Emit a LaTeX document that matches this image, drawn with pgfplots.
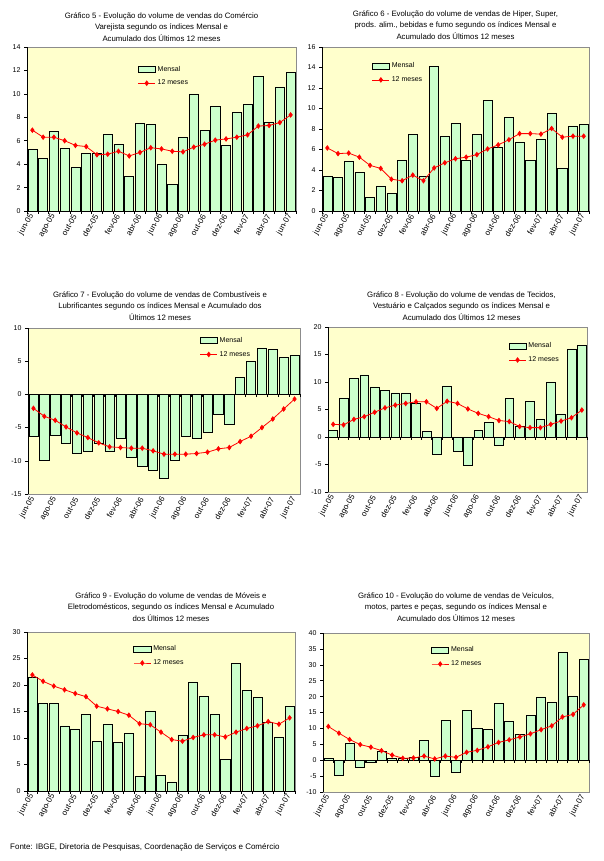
\documentclass[border=0pt]{standalone}
\usepackage{fontspec}
\setmainfont{Liberation Sans}
\usepackage{pgfplots}
\usepackage{pgfplotstable}
\pgfplotsset{compat=1.18}

\definecolor{plotbg}{HTML}{FFFFCC}
\definecolor{barfill}{HTML}{CCFFCC}

% x = mes (0 = jun-05 ... 24 = jun-07), m = Mensal, a = 12 meses
\pgfplotstableread{
x m a
0 5.25 6.9
1 4.5 6.3
2 6.8 6.3
3 5.35 6.0
4 3.7 5.6
5 4.9 5.5
6 4.9 4.8
7 6.55 4.85
8 5.7 5.1
9 2.95 4.7
10 7.5 5.0
11 7.4 5.4
12 4.0 5.3
13 2.25 5.1
14 6.3 5.05
15 10.0 5.45
16 6.9 5.7
17 8.95 6.05
18 5.6 6.15
19 8.45 6.3
20 9.1 6.5
21 11.5 7.25
22 7.6 7.3
23 10.6 7.55
24 11.85 8.2
}\gcinco

\pgfplotstableread{
x m a
0 3.4 6.15
1 3.3 5.6
2 4.8 5.65
3 3.8 5.25
4 1.35 4.45
5 2.45 4.15
6 1.75 3.1
7 4.9 2.95
8 7.5 3.5
9 3.4 2.95
10 14.1 4.2
11 7.3 4.7
12 8.55 5.1
13 4.95 5.25
14 7.5 5.5
15 10.8 6.05
16 6.25 6.45
17 9.15 6.95
18 6.75 7.55
19 4.9 7.55
20 6.95 7.5
21 9.55 8.05
22 4.2 7.2
23 8.3 7.3
24 8.45 7.3
}\gseis

\pgfplotstableread{
x m a
0 -6.3 -2.1
1 -10.0 -3.3
2 -6.1 -3.9
3 -7.3 -4.9
4 -8.9 -5.8
5 -8.55 -6.5
6 -7.4 -7.3
7 -8.6 -7.9
8 -6.65 -8.0
9 -9.5 -8.1
10 -10.8 -8.1
11 -11.5 -8.5
12 -12.6 -9.0
13 -10.0 -9.0
14 -6.3 -9.0
15 -6.6 -8.9
16 -5.7 -8.7
17 -3.0 -8.2
18 -4.5 -8.0
19 2.5 -7.1
20 5.0 -6.3
21 7.0 -5.0
22 6.8 -3.7
23 5.6 -2.2
24 5.9 -0.7
}\gsete

\pgfplotstableread{
x m a
0 1.2 2.3
1 7.1 2.2
2 10.6 3.2
3 11.3 3.7
4 9.1 4.5
5 8.4 5.3
6 8.0 5.8
7 8.0 6.1
8 6.1 6.4
9 1.0 6.4
10 -3.1 5.2
11 9.3 6.5
12 -2.6 6.1
13 -5.1 5.1
14 1.2 4.3
15 2.6 3.7
16 -1.5 3.0
17 7.0 2.8
18 2.0 1.9
19 6.4 1.7
20 3.3 1.7
21 10.0 2.3
22 4.2 2.9
23 16.0 3.5
24 16.6 4.9
}\goito

\pgfplotstableread{
x m a
0 21.4 21.9
1 16.6 20.7
2 16.6 19.8
3 12.3 19.1
4 11.7 18.4
5 14.4 17.8
6 9.4 16.0
7 12.5 15.5
8 9.2 15.0
9 10.9 14.3
10 2.8 12.7
11 15.1 12.5
12 3.0 11.1
13 1.7 9.7
14 10.6 9.4
15 20.6 10.1
16 17.9 10.6
17 14.5 10.6
18 6.0 10.2
19 24.0 11.1
20 19.0 11.8
21 17.6 12.3
22 13.0 13.1
23 10.2 12.6
24 16.0 13.8
}\gnove

\pgfplotstableread{
x m a
0 0.5 10.6
1 -4.6 8.5
2 5.3 6.5
3 -2.3 4.9
4 -0.6 4.1
5 2.8 3.0
6 0.5 1.6
7 0.5 0.6
8 0.8 0.7
9 6.2 1.3
10 -5.1 0.4
11 12.5 1.3
12 -3.7 0.9
13 15.7 2.5
14 10.0 3.1
15 9.7 4.2
16 17.9 5.6
17 12.2 6.4
18 8.1 7.3
19 14.1 8.3
20 19.9 9.6
21 18.2 10.8
22 34.0 13.6
23 20.2 14.4
24 31.8 17.4
}\gdez

\pgfplotsset{
  painel/.style={
    scale only axis, anchor=south west, clip=false,
    xmin=-0.5, xmax=24.5,
    xtick={0,2,...,24},
    xticklabels={jun-05,ago-05,out-05,dez-05,fev-06,abr-06,jun-06,ago-06,out-06,dez-06,fev-07,abr-07,jun-07},
    xtick style={draw=none},
    x tick label style={rotate=60, anchor=east, font=\fontsize{8}{9}\selectfont, inner sep=1pt},
    ytick pos=left, tick align=outside, major tick length=3pt,
    y tick style={black, line width=0.5pt},
    y tick label style={font=\fontsize{7}{8}\selectfont},
    /pgf/number format/assume math mode=true,
    axis line style={black!45, line width=0.4pt},
    axis background/.style={fill=plotbg},
    title style={font=\fontsize{7.8}{11.5}\selectfont, align=center, yshift=-4pt},
    legend style={draw=none, fill=none, font=\fontsize{7}{8}\selectfont,
      anchor=north west, cells={anchor=west}, row sep=3.5pt},
    legend cell align=left,
  },
  mensal/.style={ybar, bar width=0.85, bar shift=0pt, fill=barfill, draw=black,
    line width=0.6pt, area legend},
  meses/.style={red, line width=0.8pt, mark=diamond*, mark size=2.2pt,
    mark options={solid, fill=red, draw=red}},
}

% linha do zero, marcas entre categorias e eixo vertical
\newcommand{\eixos}{%
  \draw[black, line width=0.7pt] (axis cs:-0.5,0) -- (axis cs:24.5,0);
  \pgfplotsinvokeforeach{-0.5,0.5,1.5,2.5,3.5,4.5,5.5,6.5,7.5,8.5,9.5,10.5,11.5,12.5,13.5,14.5,15.5,16.5,17.5,18.5,19.5,20.5,21.5,22.5,23.5,24.5}{%
    \draw[black, line width=0.5pt] (axis cs:##1,0) -- ++(0pt,-3pt);}
  \draw[black, line width=0.7pt] (rel axis cs:0,0) -- (rel axis cs:0,1);
}

\begin{document}
\begin{tikzpicture}
\useasboundingbox (0,0) rectangle (603pt,861pt);

% Grafico 5
\begin{axis}[painel, at={(27pt,650pt)}, width=269pt, height=164pt,
  ymin=0, ymax=14, ytick={0,2,...,14},
  title={Gráfico 5 - Evolução do volume de vendas do Comércio\\Varejista segundo os índices Mensal e\\Acumulado dos Últimos 12 meses},
  legend style={at={(0.40,0.91)}}]
\addplot[mensal] table[x=x, y=m] {\gcinco};
\addlegendentry{Mensal}
\addplot[meses] table[x=x, y=a] {\gcinco};
\addlegendentry{12 meses}
\eixos
\end{axis}

% Grafico 6
\begin{axis}[painel, at={(322pt,650pt)}, width=267pt, height=164pt,
  ymin=0, ymax=16, ytick={0,2,...,16},
  title={Gráfico 6 - Evolução do volume de vendas de Hiper, Super,\\prods. alim., bebidas e fumo segundo os índices Mensal e\\Acumulado dos Últimos 12 meses},
  title style={yshift=2pt},
  legend style={at={(0.175,0.93)}}]
\addplot[mensal] table[x=x, y=m] {\gseis};
\addlegendentry{Mensal}
\addplot[meses] table[x=x, y=a] {\gseis};
\addlegendentry{12 meses}
\eixos
\end{axis}

% Grafico 7
\begin{axis}[painel, at={(28pt,367pt)}, width=272pt, height=166pt,
  ymin=-15, ymax=10, ytick={-15,-10,...,10},
  title={Gráfico 7 - Evolução do volume de vendas de Combustíveis e\\Lubrificantes segundo os índices Mensal e Acumulado dos\\Últimos 12 meses},
  title style={xshift=-4pt, yshift=2pt},
  legend style={at={(0.62,0.97)}}]
\addplot[mensal] table[x=x, y=m] {\gsete};
\addlegendentry{Mensal}
\addplot[meses] table[x=x, y=a] {\gsete};
\addlegendentry{12 meses}
\eixos
\end{axis}

% Grafico 8
\begin{axis}[painel, at={(328pt,369pt)}, width=259pt, height=165pt,
  ymin=-10, ymax=20, ytick={-10,-5,...,20},
  title={Gráfico 8 - Evolução do volume de vendas de Tecidos,\\Vestuário e Calçados segundo os índices Mensal e\\Acumulado dos Últimos 12 meses},
  title style={xshift=4pt, yshift=1pt},
  legend style={at={(0.685,0.93)}}]
\addplot[mensal] table[x=x, y=m] {\goito};
\addlegendentry{Mensal}
\addplot[meses] table[x=x, y=a] {\goito};
\addlegendentry{12 meses}
\eixos
\end{axis}

% Grafico 9
\begin{axis}[painel, at={(27pt,70pt)}, width=268pt, height=159pt,
  ymin=0, ymax=30, ytick={0,5,...,30},
  title={Gráfico 9 - Evolução do volume de vendas de Móveis e\\Eletrodomésticos, segundo os índices Mensal e Acumulado\\dos Últimos 12 meses},
  title style={xshift=10pt, yshift=5pt},
  legend style={at={(0.385,0.94)}}]
\addplot[mensal] table[x=x, y=m] {\gnove};
\addlegendentry{Mensal}
\addplot[meses] table[x=x, y=a] {\gnove};
\addlegendentry{12 meses}
\eixos
\end{axis}

% Grafico 10
\begin{axis}[painel, at={(323pt,69pt)}, width=266pt, height=159pt,
  ymin=-10, ymax=40, ytick={-10,-5,...,40},
  title={Gráfico 10 - Evolução do volume de vendas de Veículos,\\motos, partes e peças, segundo os índices Mensal e\\Acumulado dos Últimos 12 meses},
  title style={yshift=6pt},
  legend style={at={(0.395,0.94)}}]
\addplot[mensal] table[x=x, y=m] {\gdez};
\addlegendentry{Mensal}
\addplot[meses] table[x=x, y=a] {\gdez};
\addlegendentry{12 meses}
\eixos
\end{axis}

\node[anchor=west, font=\fontsize{8}{9}\selectfont, inner sep=0pt] at (10pt,14pt)
  {Fonte: IBGE, Diretoria de Pesquisas, Coordenação de Serviços e Comércio};
\end{tikzpicture}
\end{document}
